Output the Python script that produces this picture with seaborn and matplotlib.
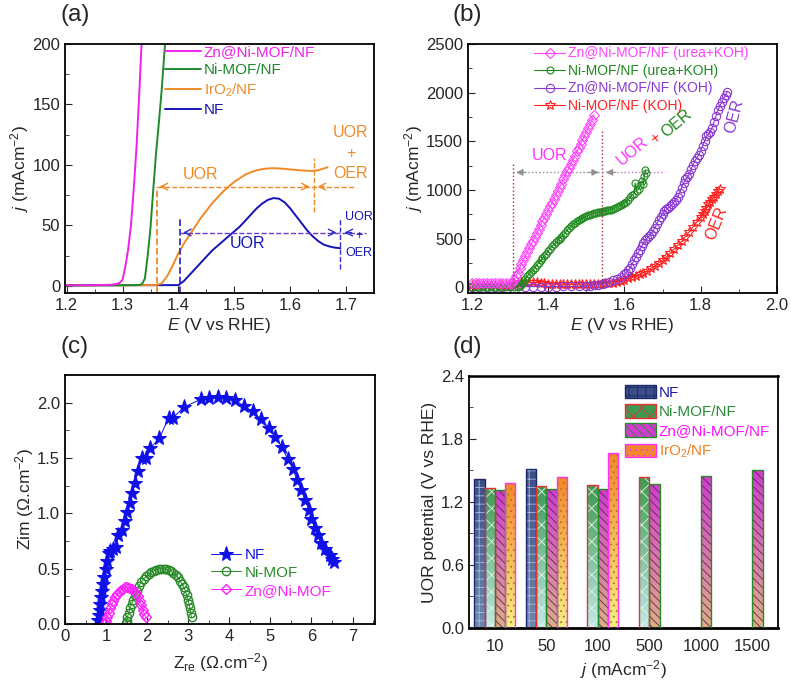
import numpy as np
import pandas as pd
import matplotlib
matplotlib.use("Agg")
import matplotlib.pyplot as plt
import seaborn as sns
from matplotlib.colors import LinearSegmentedColormap
from matplotlib.patches import Rectangle, Patch

# ---------------- data ----------------
# (a) LSV curves
a_E_zn = [1.20, 1.23, 1.26, 1.28, 1.29, 1.295, 1.30, 1.305, 1.31, 1.315, 1.32, 1.325, 1.33, 1.334]
a_j_zn = [0.4, 0.3, 0.6, 0.8, 1.5, 2.5, 5, 16, 30, 50, 80, 115, 160, 200]
a_E_ni = [1.20, 1.30, 1.33, 1.335, 1.34, 1.345, 1.35, 1.355, 1.36, 1.365, 1.37, 1.376]
a_j_ni = [0.3, 0.4, 0.6, 1.5, 6, 25, 48, 80, 110, 135, 162, 200]
a_E_ir = [1.20, 1.36, 1.37, 1.38, 1.39, 1.40, 1.41, 1.42, 1.43, 1.44, 1.45, 1.46, 1.47, 1.48,
          1.49, 1.50, 1.51, 1.52, 1.53, 1.54, 1.55, 1.56, 1.57, 1.58, 1.59, 1.60, 1.61, 1.62,
          1.63, 1.64, 1.65, 1.66, 1.667]
a_j_ir = [0.3, 0.5, 2, 8, 17, 27, 35, 42, 49, 56, 62, 68, 73, 78,
          82, 86, 89, 92, 94, 95.5, 96.5, 97, 97.2, 97, 96.7, 96.2, 95.8, 95.4,
          95.1, 95, 95.5, 97, 98]
a_E_nf = [1.20, 1.40, 1.41, 1.42, 1.43, 1.44, 1.45, 1.46, 1.47, 1.48, 1.49, 1.50, 1.51, 1.52,
          1.53, 1.54, 1.55, 1.56, 1.57, 1.58, 1.59, 1.60, 1.61, 1.62, 1.63, 1.64, 1.65, 1.66,
          1.67, 1.68, 1.69]
a_j_nf = [0.3, 0.5, 4, 9, 14, 19, 24, 29, 33, 37, 41, 45, 49, 54,
          59, 64, 68, 71, 72.5, 72, 69, 64, 58, 52, 46, 41, 37, 34,
          32.5, 31.5, 31]

# (b) LSV in urea+KOH vs KOH
b_E_zn_u = [1.20, 1.21, 1.22, 1.23, 1.24, 1.25, 1.26, 1.27, 1.28, 1.29, 1.30,
            1.305, 1.310, 1.315, 1.320, 1.325, 1.330, 1.335, 1.340, 1.345, 1.350, 1.355,
            1.360, 1.365, 1.370, 1.375, 1.380, 1.385, 1.390, 1.395, 1.400, 1.405, 1.410,
            1.415, 1.420, 1.425, 1.430, 1.435, 1.440, 1.445, 1.450, 1.455, 1.460, 1.465,
            1.470, 1.475, 1.480, 1.485, 1.490, 1.495, 1.500, 1.505, 1.510, 1.515, 1.520]
b_j_zn_u = [40, 42, 41, 40, 43, 41, 40, 42, 41, 40, 43,
            45, 70, 110, 150, 195, 235, 280, 320, 360, 400, 440,
            475, 515, 555, 595, 640, 680, 715, 755, 790, 830, 870,
            905, 950, 990, 1030, 1065, 1110, 1150, 1190, 1230, 1270, 1310,
            1350, 1395, 1430, 1475, 1515, 1550, 1600, 1640, 1680, 1720, 1770]
b_E_ni_u = [1.20, 1.21, 1.22, 1.23, 1.24, 1.25, 1.26, 1.27, 1.28, 1.29, 1.30, 1.31, 1.32,
            1.325, 1.330, 1.335, 1.340, 1.345, 1.350, 1.355, 1.360, 1.365, 1.370, 1.375,
            1.380, 1.385, 1.390, 1.395, 1.400, 1.405, 1.410, 1.415, 1.420, 1.425, 1.430,
            1.435, 1.440, 1.445, 1.450, 1.455, 1.460, 1.465, 1.470, 1.475, 1.480, 1.485,
            1.490, 1.495, 1.500, 1.505, 1.510, 1.515, 1.520, 1.525, 1.530, 1.535, 1.540,
            1.545, 1.550, 1.555, 1.560, 1.565, 1.570, 1.575, 1.580, 1.585, 1.590, 1.595,
            1.600, 1.605, 1.610, 1.615, 1.620, 1.625, 1.628, 1.632, 1.638, 1.642, 1.646,
            1.650, 1.652, 1.655, 1.657]
b_j_ni_u = [5, 4, 6, 5, 4, 5, 6, 5, 4, 5, 6, 5, 6,
            10, 25, 50, 80, 110, 140, 160, 175, 200, 225, 250,
            275, 300, 325, 345, 370, 395, 420, 440, 460, 480, 500,
            520, 540, 560, 590, 610, 630, 645, 660, 675, 690, 700,
            712, 722, 730, 738, 745, 752, 758, 763, 768, 772, 776,
            780, 784, 788, 793, 798, 805, 812, 820, 830, 840, 852,
            865, 880, 900, 925, 950, 960, 1070, 990, 1010, 1050, 1090,
            1060, 1140, 1200, 1170]
b_E_zn_k = [1.20, 1.22, 1.24, 1.26, 1.28, 1.30, 1.32, 1.34, 1.36, 1.38, 1.40, 1.42, 1.44,
            1.46, 1.48, 1.50, 1.51, 1.52, 1.53, 1.54, 1.55, 1.56, 1.57, 1.58, 1.59, 1.60,
            1.605, 1.610, 1.615, 1.620, 1.625, 1.630, 1.635, 1.640, 1.645, 1.650, 1.655,
            1.660, 1.665, 1.670, 1.675, 1.680, 1.685, 1.690, 1.695, 1.700, 1.705, 1.710,
            1.715, 1.720, 1.725, 1.730, 1.735, 1.740, 1.745, 1.750, 1.755, 1.760, 1.765,
            1.770, 1.775, 1.780, 1.785, 1.790, 1.795, 1.800, 1.805, 1.810, 1.815, 1.820,
            1.825, 1.830, 1.835, 1.840, 1.845, 1.850, 1.855, 1.860, 1.865, 1.870]
b_j_zn_k = [2, 3, 2, 4, 3, 10, 8, 6, 5, 6, 5, 6, 7,
            7, 8, 10, 15, 20, 25, 35, 45, 55, 70, 85, 105, 130,
            150, 175, 200, 235, 275, 315, 350, 385, 420, 455, 480,
            505, 525, 550, 580, 610, 650, 690, 725, 755, 780, 800,
            815, 830, 850, 875, 900, 930, 970, 1020, 1070, 1110, 1130,
            1160, 1210, 1260, 1300, 1330, 1360, 1400, 1450, 1500, 1550, 1570,
            1600, 1640, 1700, 1760, 1820, 1860, 1900, 1940, 1975, 2010]
b_E_ni_k = [1.20, 1.21, 1.22, 1.23, 1.24, 1.25, 1.26, 1.27, 1.28, 1.29, 1.30, 1.31, 1.32,
            1.33, 1.34, 1.35, 1.36, 1.37, 1.38, 1.39, 1.40, 1.41, 1.42, 1.43, 1.44, 1.45,
            1.46, 1.47, 1.48, 1.49, 1.50, 1.51, 1.52, 1.53, 1.54, 1.55, 1.56, 1.57, 1.58,
            1.59, 1.60, 1.61, 1.62, 1.63, 1.64, 1.65, 1.66, 1.67, 1.68, 1.69, 1.70, 1.71,
            1.72, 1.73, 1.74, 1.75, 1.76, 1.77, 1.78, 1.79, 1.80, 1.805, 1.81, 1.815, 1.82,
            1.825, 1.83, 1.835, 1.84, 1.845, 1.85]
b_j_ni_k = [20, 22, 18, 21, 20, 22, 19, 21, 20, 22, 25, 30, 40,
            50, 55, 52, 48, 50, 45, 40, 35, 32, 30, 31, 30, 29,
            30, 31, 30, 32, 31, 33, 32, 34, 35, 38, 40, 45, 55,
            65, 75, 90, 100, 115, 130, 150, 170, 195, 220, 250, 280, 310,
            350, 390, 430, 470, 520, 570, 620, 670, 725, 755, 785, 815, 850,
            875, 905, 930, 960, 985, 1010]

# (c) Nyquist plots
c_re_nf = [0.81, 0.82, 0.84, 0.86, 0.88, 0.90, 0.93, 0.96, 1.00, 1.03, 1.07, 1.10, 1.17, 1.25,
           1.30, 1.38, 1.45, 1.52, 1.58, 1.63, 1.70, 1.78, 1.88, 1.98, 2.08, 2.30, 2.52, 2.62,
           2.90, 3.30, 3.50, 3.72, 3.92, 4.15, 4.35, 4.57, 4.77, 4.97, 5.12, 5.28, 5.42, 5.55,
           5.65, 5.75, 5.85, 5.94, 6.00, 6.08, 6.15, 6.24, 6.34, 6.44, 6.50, 6.56]
c_im_nf = [0.04, 0.08, 0.13, 0.18, 0.24, 0.30, 0.36, 0.42, 0.50, 0.57, 0.64, 0.66, 0.68, 0.70,
           0.80, 0.85, 0.93, 1.01, 1.09, 1.18, 1.27, 1.38, 1.50, 1.50, 1.59, 1.68, 1.86, 1.86,
           1.96, 2.03, 2.04, 2.05, 2.04, 2.02, 1.97, 1.92, 1.85, 1.77, 1.69, 1.60, 1.49, 1.40,
           1.30, 1.21, 1.12, 1.03, 0.95, 0.87, 0.80, 0.73, 0.68, 0.62, 0.59, 0.56]
c_re_ni = [1.48, 1.50, 1.52, 1.55, 1.58, 1.62, 1.66, 1.70, 1.75, 1.80, 1.86, 1.92, 1.98, 2.04,
           2.10, 2.16, 2.22, 2.28, 2.34, 2.40, 2.46, 2.52, 2.58, 2.64, 2.70, 2.75, 2.80, 2.85,
           2.89, 2.93, 2.96, 2.99, 3.02, 3.04, 3.06, 3.08]
c_im_ni = [0.01, 0.03, 0.06, 0.10, 0.14, 0.18, 0.22, 0.26, 0.30, 0.34, 0.38, 0.41, 0.43, 0.45,
           0.47, 0.48, 0.49, 0.50, 0.50, 0.50, 0.495, 0.49, 0.48, 0.46, 0.44, 0.42, 0.39, 0.36,
           0.33, 0.30, 0.26, 0.22, 0.18, 0.14, 0.10, 0.06]
c_re_zn = [0.98, 1.00, 1.03, 1.06, 1.10, 1.14, 1.18, 1.22, 1.27, 1.32, 1.37, 1.42, 1.47, 1.52,
           1.57, 1.62, 1.67, 1.72, 1.77, 1.82, 1.86, 1.90, 1.93, 1.96]
c_im_zn = [0.01, 0.03, 0.06, 0.10, 0.14, 0.18, 0.21, 0.24, 0.27, 0.29, 0.31, 0.32, 0.33, 0.33,
           0.325, 0.32, 0.30, 0.28, 0.25, 0.21, 0.17, 0.13, 0.09, 0.06]

# (d) UOR potential at current densities
d_current = ["10", "50", "100", "500", "1000", "1500"]
d_samples = ["NF", "Ni-MOF/NF", "Zn@Ni-MOF/NF", "IrO$_2$/NF"]
d_nf = [1.42, 1.51, None, None, None, None]
d_ni = [1.335, 1.355, 1.36, 1.44, None, None]
d_zn = [1.31, 1.32, 1.32, 1.37, 1.445, 1.50]
d_ir = [1.385, 1.44, 1.67, None, None, None]

# ---------------- style ----------------
sns.set_style("ticks")
plt.rcParams["font.family"] = ["Liberation Sans", "DejaVu Sans"]
plt.rcParams["mathtext.fontset"] = "custom"
plt.rcParams["mathtext.rm"] = "Liberation Sans"
plt.rcParams["mathtext.it"] = "Liberation Sans:italic"
plt.rcParams["font.size"] = 12
plt.rcParams["axes.linewidth"] = 1.3
plt.rcParams["axes.edgecolor"] = "black"
plt.rcParams["xtick.direction"] = "in"
plt.rcParams["ytick.direction"] = "in"
plt.rcParams["xtick.major.size"] = 5
plt.rcParams["ytick.major.size"] = 5
plt.rcParams["xtick.minor.size"] = 3
plt.rcParams["ytick.minor.size"] = 3
plt.rcParams["xtick.labelsize"] = 12
plt.rcParams["ytick.labelsize"] = 12
plt.rcParams["hatch.linewidth"] = 0.6

LAB = 12.5

fig = plt.figure(figsize=(7.91, 6.85), dpi=100)
ax_a = fig.add_axes([0.0822, 0.5723, 0.3906, 0.3635])
ax_b = fig.add_axes([0.5917, 0.5723, 0.3906, 0.3635])
ax_c = fig.add_axes([0.0822, 0.0891, 0.3920, 0.3635])
ax_d = fig.add_axes([0.5930, 0.0832, 0.3906, 0.3680])

fig.text(0.077, 0.978, "(a)", fontsize=17.5, va="center")
fig.text(0.572, 0.978, "(b)", fontsize=17.5, va="center")
fig.text(0.077, 0.493, "(c)", fontsize=17.5, va="center")
fig.text(0.572, 0.493, "(d)", fontsize=17.5, va="center")

# ---------------- (a) ----------------
col_a = {"zn": "#f020e8", "ni": "#1e8a2a", "ir": "#f08a28", "nf": "#1414b4"}
sns.lineplot(x=a_E_nf, y=a_j_nf, ax=ax_a, color=col_a["nf"], lw=1.4, label="NF", sort=False, estimator=None)
sns.lineplot(x=a_E_ir, y=a_j_ir, ax=ax_a, color=col_a["ir"], lw=1.4, label="IrO$_2$/NF", sort=False, estimator=None)
sns.lineplot(x=a_E_ni, y=a_j_ni, ax=ax_a, color=col_a["ni"], lw=1.4, label="Ni-MOF/NF", sort=False, estimator=None)
sns.lineplot(x=a_E_zn, y=a_j_zn, ax=ax_a, color=col_a["zn"], lw=1.4, label="Zn@Ni-MOF/NF", sort=False, estimator=None)
ax_a.set_xlim(1.197, 1.75)
ax_a.set_ylim(-6, 200)
ax_a.set_xticks([1.2, 1.3, 1.4, 1.5, 1.6, 1.7])
ax_a.set_xticks([1.25, 1.35, 1.45, 1.55, 1.65], minor=True)
ax_a.set_yticks([0, 50, 100, 150, 200])
ax_a.set_yticks([25, 75, 125, 175], minor=True)
ax_a.set_xlabel("$E$ (V vs RHE)", fontsize=LAB, labelpad=2)
ax_a.set_ylabel("$j$ (mAcm$^{-2}$)", fontsize=LAB, labelpad=1)

# annotations (a): orange
oc = col_a["ir"]
ax_a.plot([1.361, 1.361], [-6, 82], ls="--", color=oc, lw=1.3)
ax_a.plot([1.361, 1.717], [82, 82], ls="--", color=oc, lw=1.0)
ax_a.plot([1.642, 1.642], [61, 106], ls="--", color=oc, lw=1.0)
for x0, x1 in [(1.38, 1.361), (1.62, 1.640), (1.665, 1.644)]:
    ax_a.annotate("", xy=(x1, 82), xytext=(x0, 82), arrowprops=dict(arrowstyle="->", color=oc, lw=1.0))
ax_a.text(1.439, 92, "UOR", color=oc, fontsize=11.5, ha="center", va="center")
ax_a.text(1.708, 127, "UOR", color=oc, fontsize=11.5, ha="center", va="center")
ax_a.text(1.708, 109, "+", color=oc, fontsize=11.5, ha="center", va="center")
ax_a.text(1.708, 93, "OER", color=oc, fontsize=11.5, ha="center", va="center")
# annotations (a): blue
bc = "#3030c8"
ax_a.plot([1.403, 1.403], [-6, 55], ls="--", color=bc, lw=1.3)
ax_a.plot([1.403, 1.735], [44, 44], ls="--", color="#6a3ad0", lw=1.0)
ax_a.plot([1.690, 1.690], [14, 55], ls="--", color=bc, lw=1.0)
for x0, x1 in [(1.42, 1.403), (1.67, 1.688), (1.715, 1.692)]:
    ax_a.annotate("", xy=(x1, 44), xytext=(x0, 44), arrowprops=dict(arrowstyle="->", color=bc, lw=1.0))
ax_a.text(1.523, 35, "UOR", color=col_a["nf"], fontsize=11.5, ha="center", va="center")
ax_a.text(1.723, 57, "UOR", color=col_a["nf"], fontsize=9, ha="center", va="center")
ax_a.text(1.723, 41, "+", color=col_a["nf"], fontsize=9, ha="center", va="center")
ax_a.text(1.723, 27, "OER", color=col_a["nf"], fontsize=9, ha="center", va="center")

h, l = ax_a.get_legend_handles_labels()
leg = ax_a.legend(h[::-1], l[::-1], loc="upper left", bbox_to_anchor=(0.325, 0.995), frameon=False,
                  fontsize=11, handlelength=2.3, handletextpad=0.2, labelspacing=0.28,
                  borderpad=0, borderaxespad=0)
for t, c in zip(leg.get_texts(), [col_a["zn"], col_a["ni"], col_a["ir"], col_a["nf"]]):
    t.set_color(c)

# ---------------- (b) ----------------
col_b = {"zn_u": "#ff44ff", "ni_u": "#1e8a1e", "zn_k": "#8a38d0", "ni_k": "#ff2020"}
sns.lineplot(x=b_E_ni_k, y=b_j_ni_k, ax=ax_b, color=col_b["ni_k"], lw=0.8, marker="*", markersize=7,
             markerfacecolor="none", markeredgecolor=col_b["ni_k"], markeredgewidth=0.8,
             label="Ni-MOF/NF (KOH)", sort=False, estimator=None)
sns.lineplot(x=b_E_zn_k, y=b_j_zn_k, ax=ax_b, color=col_b["zn_k"], lw=0.8, marker="o", markersize=6,
             markerfacecolor="none", markeredgecolor=col_b["zn_k"], markeredgewidth=0.8,
             label="Zn@Ni-MOF/NF (KOH)", sort=False, estimator=None)
sns.lineplot(x=b_E_ni_u, y=b_j_ni_u, ax=ax_b, color=col_b["ni_u"], lw=0.8, marker="o", markersize=5,
             markerfacecolor="none", markeredgecolor=col_b["ni_u"], markeredgewidth=0.8,
             label="Ni-MOF/NF (urea+KOH)", sort=False, estimator=None)
sns.lineplot(x=b_E_zn_u, y=b_j_zn_u, ax=ax_b, color=col_b["zn_u"], lw=0.8, marker="D", markersize=5,
             markerfacecolor="none", markeredgecolor=col_b["zn_u"], markeredgewidth=0.8,
             label="Zn@Ni-MOF/NF (urea+KOH)", sort=False, estimator=None)
ax_b.set_xlim(1.19, 2.0)
ax_b.set_ylim(-60, 2500)
ax_b.set_xticks([1.2, 1.4, 1.6, 1.8, 2.0])
ax_b.set_xticks([1.3, 1.5, 1.7, 1.9], minor=True)
ax_b.set_yticks([0, 500, 1000, 1500, 2000, 2500])
ax_b.set_yticks([250, 750, 1250, 1750, 2250], minor=True)
ax_b.set_xlabel("$E$ (V vs RHE)", fontsize=LAB, labelpad=2)
ax_b.set_ylabel("$j$ (mAcm$^{-2}$)", fontsize=LAB, labelpad=1)

vc = "#a03030"
ax_b.plot([1.307, 1.307], [0, 1272], ls=":", color=vc, lw=1.0)
ax_b.plot([1.542, 1.542], [0, 1622], ls=":", color=vc, lw=1.0)
ax_b.plot([1.307, 1.542], [1180, 1180], ls=":", color="#909090", lw=1.0)
ax_b.plot([1.542, 1.706], [1180, 1180], ls=":", color="#d070d0", lw=1.0)
for x0, x1 in [(1.35, 1.309), (1.50, 1.540), (1.585, 1.544)]:
    ax_b.annotate("", xy=(x1, 1180), xytext=(x0, 1180),
                  arrowprops=dict(arrowstyle="-|>", color="#909090", lw=0.8, mutation_scale=10))
ax_b.text(1.403, 1358, "UOR", color="#ff30ff", fontsize=11.5, ha="center", va="center")
ax_b.text(1.622, 1400, "UOR", color="#ff30ff", fontsize=11.5, ha="center", va="center", rotation=40)
ax_b.text(1.682, 1525, "+", color="#ff2020", fontsize=11.5, ha="center", va="center", rotation=40)
ax_b.text(1.738, 1680, "OER", color=col_b["ni_u"], fontsize=11.5, ha="center", va="center", rotation=40)
ax_b.text(1.888, 1760, "OER", color=col_b["zn_k"], fontsize=11.5, ha="center", va="center", rotation=75)
ax_b.text(1.842, 660, "OER", color=col_b["ni_k"], fontsize=11.5, ha="center", va="center", rotation=68)

h, l = ax_b.get_legend_handles_labels()
leg = ax_b.legend(h[::-1], l[::-1], loc="upper left", bbox_to_anchor=(0.215, 0.99), frameon=False,
                  fontsize=10, handlelength=2.2, handletextpad=0.2, labelspacing=0.25,
                  borderpad=0, borderaxespad=0, numpoints=1)
for t, c in zip(leg.get_texts(), [col_b["zn_u"], col_b["ni_u"], col_b["zn_k"], col_b["ni_k"]]):
    t.set_color(c)

# ---------------- (c) ----------------
col_c = {"nf": "#1010e8", "ni": "#2a8a2a", "zn": "#ff20ff"}
sns.lineplot(x=c_re_nf, y=c_im_nf, ax=ax_c, color=col_c["nf"], lw=0.7, marker="*", markersize=11,
             markeredgecolor=col_c["nf"], label="NF", sort=False, estimator=None)
sns.lineplot(x=c_re_ni, y=c_im_ni, ax=ax_c, color=col_c["ni"], lw=0.7, marker="o", markersize=6,
             markerfacecolor="none", markeredgecolor=col_c["ni"], markeredgewidth=1.0,
             label="Ni-MOF", sort=False, estimator=None)
sns.lineplot(x=c_re_zn, y=c_im_zn, ax=ax_c, color=col_c["zn"], lw=0.7, marker="D", markersize=5,
             markerfacecolor="none", markeredgecolor=col_c["zn"], markeredgewidth=1.0,
             label="Zn@Ni-MOF", sort=False, estimator=None)
ax_c.set_xlim(0, 7.55)
ax_c.set_ylim(0, 2.25)
ax_c.set_xticks(range(8))
ax_c.set_xticks([0.5, 1.5, 2.5, 3.5, 4.5, 5.5, 6.5, 7.5], minor=True)
ax_c.set_yticks([0, 0.5, 1.0, 1.5, 2.0])
ax_c.set_yticks([0.25, 0.75, 1.25, 1.75], minor=True)
ax_c.yaxis.set_major_formatter(matplotlib.ticker.FormatStrFormatter("%.1f"))
ax_c.set_xlabel("Z$_{\\rm re}$ (Ω.cm$^{-2}$)", fontsize=LAB, labelpad=5)
ax_c.set_ylabel("Zim (Ω.cm$^{-2}$)", fontsize=LAB, labelpad=1)
leg = ax_c.legend(loc="upper left", bbox_to_anchor=(0.47, 0.305), frameon=False,
                  fontsize=11, handlelength=2.0, handletextpad=0.2, labelspacing=0.25,
                  borderpad=0, borderaxespad=0, numpoints=1)
for t, c in zip(leg.get_texts(), [col_c["nf"], col_c["ni"], col_c["zn"]]):
    t.set_color(c)

# ---------------- (d) ----------------
rows = []
for s, vals in zip(d_samples, [d_nf, d_ni, d_zn, d_ir]):
    for cur, v in zip(d_current, vals):
        if v is not None:
            rows.append({"current": cur, "sample": s, "potential": v})
df_d = pd.DataFrame(rows)
sns.barplot(data=df_d, x="current", y="potential", hue="sample", order=d_current,
            hue_order=d_samples, ax=ax_d, width=0.8, errorbar=None, legend=False)

bar_style = [
    # top colour, bottom colour, hatch, hatch colour, edge colour, text colour
    ("#3c4f86", "#7088b0", "++", "#a8b8dc", "#1c2a6a", "#1a1aa0"),
    ("#3e9a52", "#bfe9e6", "xx", "#e2f4ec", "#e83030", "#2a8a3a"),
    ("#d23cd2", "#dcae86", "\\\\\\\\", "#5a2a50", "#2a8a2a", "#ff10ff"),
    ("#f08a28", "#f4ef84", "...", "#c07020", "#ff30ff", "#f08020"),
]
for cont, (top, bot, hat, hc, ec, tc) in zip(ax_d.containers, bar_style):
    cmap = LinearSegmentedColormap.from_list("g", [bot, top])
    for bar in cont:
        hgt = bar.get_height()
        if not np.isfinite(hgt) or hgt == 0:
            continue
        x0, w = bar.get_x(), bar.get_width()
        im = ax_d.imshow(np.linspace(0, 1, 64).reshape(-1, 1), cmap=cmap, origin="lower",
                         extent=(x0, x0 + w, 0, hgt), aspect="auto", zorder=1)
        im.set_clip_path(bar)
        bar.set_facecolor("none")
        bar.set_hatch(hat)
        bar.set_edgecolor(hc)
        bar.set_linewidth(0)
        bar.set_zorder(2)
        ax_d.add_patch(Rectangle((x0, 0), w, hgt, fill=False, edgecolor=ec, lw=1.0, zorder=3))
ax_d.set_xlim(-0.5, 5.5)
ax_d.set_ylim(0, 2.4)
ax_d.set_yticks([0, 0.6, 1.2, 1.8, 2.4])
ax_d.set_yticks([0.3, 0.9, 1.5, 2.1], minor=True)
ax_d.yaxis.set_major_formatter(matplotlib.ticker.FormatStrFormatter("%.1f"))
ax_d.tick_params(axis="x", length=0, pad=8)
ax_d.set_xlabel("$j$ (mAcm$^{-2}$)", fontsize=LAB, labelpad=3)
ax_d.set_ylabel("UOR potential (V vs RHE)", fontsize=LAB, labelpad=3)

handles = []
for (top, bot, hat, hc, ec, tc) in bar_style:
    handles.append(Patch(facecolor=top, edgecolor=ec, hatch=hat, lw=1.0))
leg = ax_d.legend(handles, d_samples, loc="upper left", bbox_to_anchor=(0.505, 0.965), frameon=False,
                  fontsize=11, handlelength=2.0, handleheight=1.0, handletextpad=0.2,
                  labelspacing=0.28, borderpad=0, borderaxespad=0)
for t, s in zip(leg.get_texts(), bar_style):
    t.set_color(s[5])

for ax in (ax_a, ax_b, ax_c, ax_d):
    ax.tick_params(which="both", top=False, right=False)
    for sp in ax.spines.values():
        sp.set_visible(True)
        sp.set_color("black")
ax_d.spines["bottom"].set_linewidth(2.0)
ax_d.spines["top"].set_linewidth(1.8)

fig.savefig("out.png", dpi=100)
